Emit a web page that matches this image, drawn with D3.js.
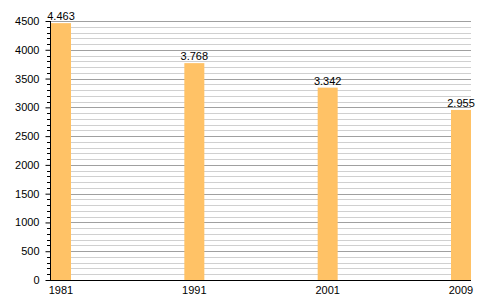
<!DOCTYPE html>
<html><head><meta charset="utf-8">
<script src="https://cdn.jsdelivr.net/npm/d3@7"></script>
<style>body{margin:0;background:#fff;} text{font-family:"Liberation Sans",Arial,sans-serif;}</style>
</head><body>
<svg id="c" width="500" height="300"></svg>
<script>
const years = ["1981", "1991", "2001", "2009"];
const values = [4463, 3768, 3342, 2955];
const valueLabels = ["4.463", "3.768", "3.342", "2.955"];
const yTicks = [0, 500, 1000, 1500, 2000, 2500, 3000, 3500, 4000, 4500];

(function () {
const svg = d3.select("#c");
const mLeft = 50, mRight = 471, mTop = 21, mBottom = 280, barW = 20;
const x = d3.scalePoint().domain(years).range([mLeft + 1, mRight - barW]);
const y = d3.scaleLinear().domain([0, 4500]).range([mBottom, mTop]);

const minor = d3.range(100, 4600, 100);
svg.append("g").selectAll("line").data(minor).join("line")
  .attr("x1", mLeft).attr("x2", mRight)
  .attr("y1", d => Math.round(y(d)) + 0.5).attr("y2", d => Math.round(y(d)) + 0.5)
  .attr("stroke", d => d % 500 === 0 ? "#a0a0a0" : "#d0d0d0").attr("stroke-width", 1);

// y axis
const yAxis = d3.axisLeft(y).tickValues(yTicks).tickFormat(d3.format("d")).tickSize(5).tickPadding(6);
const gy = svg.append("g").attr("transform", `translate(${mLeft + 0.5},0)`).call(yAxis);
gy.select(".domain").remove();
gy.selectAll(".tick line").attr("stroke", "#000");
gy.selectAll("text").attr("font-size", 11).attr("fill", "#000")
  .attr("font-family", "Liberation Sans, Arial, sans-serif");
// minor ticks
svg.append("g").selectAll("line").data(minor.filter(d => d % 500 !== 0)).join("line")
  .attr("x1", mLeft - 3).attr("x2", mLeft)
  .attr("y1", d => Math.round(y(d)) + 0.5).attr("y2", d => Math.round(y(d)) + 0.5)
  .attr("stroke", "#000");
svg.append("line").attr("x1", mLeft + 0.5).attr("x2", mLeft + 0.5).attr("y1", mTop).attr("y2", mBottom)
  .attr("stroke", "#000");

// bars
svg.append("g").selectAll("rect").data(values).join("rect")
  .attr("x", (d, i) => x(years[i])).attr("width", barW)
  .attr("y", d => y(d)).attr("height", d => mBottom - y(d))
  .attr("fill", "#ffc266");

// x axis
svg.append("line").attr("x1", mLeft).attr("x2", mRight).attr("y1", mBottom + 0.5).attr("y2", mBottom + 0.5)
  .attr("stroke", "#000");
svg.append("g").selectAll("text").data(years).join("text")
  .attr("x", d => x(d) + barW / 2).attr("y", 294).attr("text-anchor", "middle")
  .attr("font-size", 11).attr("fill", "#000").text(d => d);

// value labels
svg.append("g").selectAll("text").data(values).join("text")
  .attr("x", (d, i) => x(years[i]) + barW / 2).attr("y", d => y(d) - 3).attr("text-anchor", "middle")
  .attr("font-size", 11).attr("fill", "#000").text((d, i) => valueLabels[i]);
})();
</script>
</body></html>
